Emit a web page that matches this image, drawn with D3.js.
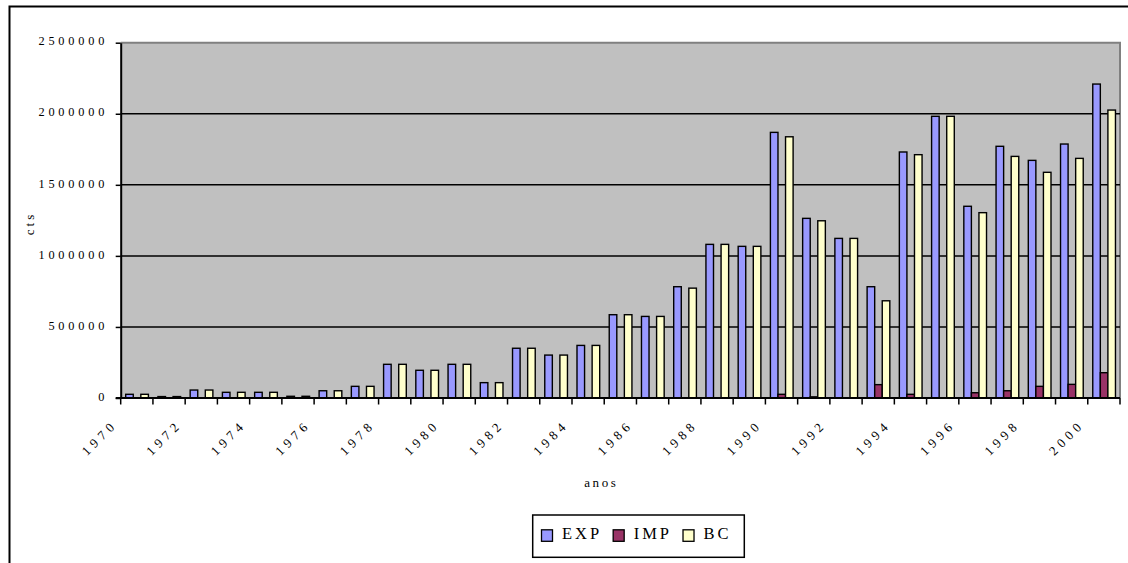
<!DOCTYPE html>
<html>
<head>
<meta charset="utf-8">
<script src="https://cdn.jsdelivr.net/npm/d3@7"></script>
<style>
  html, body { margin: 0; padding: 0; background: #fff; }
  svg { display: block; }
  text { font-family: "Liberation Serif", "Times New Roman", serif; fill: #000; }
</style>
</head>
<body>
<svg id="chart" width="1128" height="563"></svg>
<script>
// Yearly values (cts)
const years = [1970, 1971, 1972, 1973, 1974, 1975, 1976, 1977, 1978, 1979,
               1980, 1981, 1982, 1983, 1984, 1985, 1986, 1987, 1988, 1989,
               1990, 1991, 1992, 1993, 1994, 1995, 1996, 1997, 1998, 1999, 2000];

const exp = [26000, 10000, 56000, 40000, 40000, 12000, 51000, 82000, 237000, 195000,
             237000, 108000, 350000, 302000, 370000, 586000, 574000, 783000, 1081000, 1067000,
             1869000, 1264000, 1123000, 783000, 1731000, 1982000, 1349000, 1771000, 1672000, 1787000, 2209000];

const imp = [0, 0, 0, 0, 0, 0, 0, 0, 0, 0,
             0, 0, 0, 0, 0, 0, 0, 0, 0, 0,
             26000, 8000, 0, 94000, 26000, 0, 37000, 51000, 82000, 96000, 178000];

const bc = [26000, 10000, 56000, 40000, 40000, 12000, 51000, 82000, 237000, 195000,
            237000, 108000, 350000, 302000, 370000, 586000, 574000, 773000, 1081000, 1067000,
            1838000, 1247000, 1123000, 684000, 1712000, 1982000, 1304000, 1700000, 1588000, 1686000, 2026000];

const yTicks = [0, 500000, 1000000, 1500000, 2000000, 2500000];
const xTickLabels = [1970, 1972, 1974, 1976, 1978, 1980, 1982, 1984, 1986, 1988,
                     1990, 1992, 1994, 1996, 1998, 2000];

const seriesNames = ["EXP", "IMP", "BC"];
const seriesColors = ["#9999ff", "#993366", "#ffffcc"];
const seriesValues = [exp, imp, bc];

const svg = d3.select("#chart");

// outer chart frame (runs past the right and bottom edges)
svg.append("rect")
  .attr("x", 9.5).attr("y", 6.5)
  .attr("width", 1300).attr("height", 700)
  .attr("fill", "#fff").attr("stroke", "#000").attr("stroke-width", 2);

const plot = { left: 120.7, right: 1120, top: 42.7, bottom: 398 };

const x = d3.scaleBand().domain(years).range([plot.left, plot.right]).padding(0);
const xInner = d3.scaleBand().domain(seriesNames).range([5, 27.7]).padding(0);
const y = d3.scaleLinear().domain([0, 2500000]).range([plot.bottom, plot.top]);

// plot background
svg.append("rect")
  .attr("x", plot.left).attr("y", plot.top)
  .attr("width", plot.right - plot.left).attr("height", plot.bottom - plot.top)
  .attr("fill", "#c0c0c0");

// plot border top/right (grey)
svg.append("path")
  .attr("d", `M${plot.left},${plot.top}H${plot.right}V${plot.bottom}`)
  .attr("fill", "none").attr("stroke", "#808080").attr("stroke-width", 2);

// horizontal gridlines
svg.append("g").selectAll("line")
  .data(yTicks.filter(v => v > 0 && v < 2500000))
  .join("line")
  .attr("x1", plot.left).attr("x2", plot.right)
  .attr("y1", d => y(d)).attr("y2", d => y(d))
  .attr("stroke", "#000").attr("stroke-width", 1.5);

// bars
const groups = svg.append("g").selectAll("g")
  .data(years)
  .join("g")
  .attr("transform", d => `translate(${x(d)},0)`);

groups.selectAll("rect")
  .data((d, i) => seriesNames.map((s, k) => ({ s, k, v: seriesValues[k][i] })).filter(o => o.v > 0))
  .join("rect")
  .attr("x", o => xInner(o.s))
  .attr("width", xInner.bandwidth())
  .attr("y", o => y(o.v))
  .attr("height", o => y(0) - y(o.v))
  .attr("fill", o => seriesColors[o.k])
  .attr("stroke", "#000").attr("stroke-width", 1.4);

// y axis
const yLs = 3.8;
const yAxis = d3.axisLeft(y).tickValues(yTicks).tickSize(5).tickPadding(7.6)
  .tickFormat(d3.format("d")).tickSizeOuter(0);
const gy = svg.append("g").attr("transform", `translate(${plot.left},0)`).call(yAxis);
gy.select(".domain").attr("stroke", "#000").attr("stroke-width", 2);
gy.selectAll(".tick line").attr("stroke", "#000").attr("stroke-width", 1.5);
gy.selectAll(".tick text")
  .attr("font-size", 12.3).attr("letter-spacing", yLs)
  .attr("dy", "0.3em").attr("y", -1.5);

// x axis line and ticks at category boundaries
const xBounds = years.map(d => x(d)).concat([plot.right]);
svg.append("line")
  .attr("x1", plot.left - 5).attr("x2", plot.right)
  .attr("y1", plot.bottom).attr("y2", plot.bottom)
  .attr("stroke", "#000").attr("stroke-width", 2);
svg.append("g").selectAll("line")
  .data(xBounds)
  .join("line")
  .attr("x1", d => d).attr("x2", d => d)
  .attr("y1", plot.bottom).attr("y2", plot.bottom + 6.5)
  .attr("stroke", "#000").attr("stroke-width", 1.5);

// rotated year labels: each digit set along a 45° baseline
const xFont = 13, xAdvance = 6.5, xGap = 4.5;
const c45 = Math.SQRT1_2;
const labelG = svg.append("g");
xTickLabels.forEach(year => {
  const chars = String(year).split("");
  const endX = x(year) + x.bandwidth() / 2 - 21.8;
  const endY = 428.4;
  const len = chars.length * xAdvance + (chars.length - 1) * xGap;
  chars.forEach((ch, j) => {
    const s = -len + j * (xAdvance + xGap);
    labelG.append("text")
      .attr("transform", `translate(${endX + s * c45},${endY - s * c45}) rotate(-45)`)
      .attr("font-size", xFont)
      .text(ch);
  });
});

// axis titles
svg.append("text")
  .attr("x", 600 + 1.3).attr("y", 487)
  .attr("text-anchor", "middle")
  .attr("font-size", 13).attr("letter-spacing", 2.6)
  .text("anos");

svg.append("text")
  .attr("transform", `translate(33.5,${222 + 1.5}) rotate(-90)`)
  .attr("text-anchor", "middle")
  .attr("font-size", 13).attr("letter-spacing", 3)
  .text("cts");

// legend
const legend = svg.append("g");
legend.append("rect")
  .attr("x", 532.7).attr("y", 515)
  .attr("width", 211.6).attr("height", 42.3)
  .attr("fill", "#fff").attr("stroke", "#000").attr("stroke-width", 1.5);

const legLs = 3;
let lx = 541.5;
seriesNames.forEach((name, k) => {
  legend.append("rect")
    .attr("x", lx).attr("y", 529.8)
    .attr("width", 11).attr("height", 11.5)
    .attr("fill", seriesColors[k]).attr("stroke", "#000").attr("stroke-width", 1.3);
  const t = legend.append("text")
    .attr("x", lx + 20.5).attr("y", 538.5)
    .attr("font-size", 16.5).attr("letter-spacing", legLs)
    .text(name);
  const w = t.node().getComputedTextLength();
  lx = lx + 20.5 + w - legLs + 14;
});
</script>
</body>
</html>
